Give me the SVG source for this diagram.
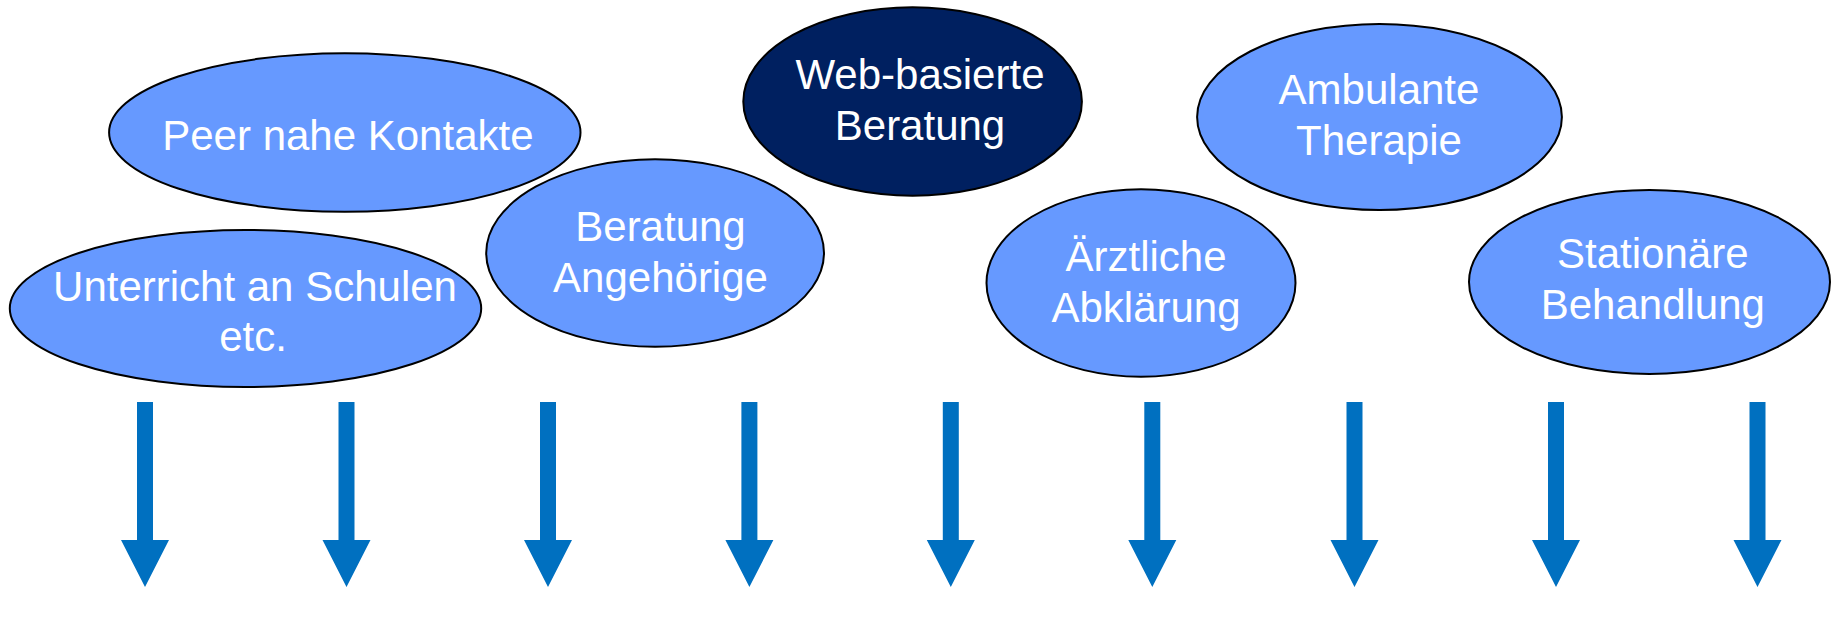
<svg xmlns="http://www.w3.org/2000/svg" xmlns:xlink="http://www.w3.org/1999/xlink" width="1831" height="628" viewBox="0 0 1831 628">
  <style>
    .node { fill: #6699FF; stroke: #000000; stroke-width: 2; }
    .node.dark { fill: #002060; }
    .label { font-family: "Liberation Sans", Arial, sans-serif; font-size: 42px; fill: #FFFFFF; text-anchor: middle; }
    .arrow { fill: #0070C0; }
  </style>
  <defs>
    <!-- block arrow pointing down, origin at shaft centre -->
    <path id="downArrow" class="arrow" d="M -8 402 L 8 402 L 8 540 L 24 540 L 0 587 L -24 540 L -8 540 Z"/>
  </defs>

  <rect width="1831" height="628" fill="#FFFFFF"/>

  <g id="peer">
    <ellipse class="node" cx="344.8" cy="132.5" rx="235.7" ry="79.2"/>
    <text class="label" x="347.9" y="150">Peer nahe Kontakte</text>
  </g>

  <g id="unterricht">
    <ellipse class="node" cx="245.5" cy="308.5" rx="235.7" ry="78.5"/>
    <text class="label" x="255" y="300.5">Unterricht an Schulen</text>
    <text class="label" x="253" y="351">etc.</text>
  </g>

  <g id="beratung-angehoerige">
    <ellipse class="node" cx="655.1" cy="253" rx="168.9" ry="93.7"/>
    <text class="label" x="660.5" y="240.7">Beratung</text>
    <text class="label" x="660.5" y="291.7">Angehörige</text>
  </g>

  <g id="web-beratung">
    <ellipse class="node dark" cx="912.6" cy="101.5" rx="169.3" ry="94.2"/>
    <text class="label" x="920" y="89.3">Web-basierte</text>
    <text class="label" x="920" y="140">Beratung</text>
  </g>

  <g id="aerztliche-abklaerung">
    <ellipse class="node" cx="1141" cy="283" rx="154.5" ry="93.7"/>
    <text class="label" x="1146" y="270.7">Ärztliche</text>
    <text class="label" x="1146" y="321.7">Abklärung</text>
  </g>

  <g id="ambulante-therapie">
    <ellipse class="node" cx="1379.5" cy="117" rx="182.4" ry="93"/>
    <text class="label" x="1379" y="104">Ambulante</text>
    <text class="label" x="1379" y="155">Therapie</text>
  </g>

  <g id="stationaere-behandlung">
    <ellipse class="node" cx="1649.5" cy="282" rx="180.5" ry="92"/>
    <text class="label" x="1652.8" y="268.3">Stationäre</text>
    <text class="label" x="1652.8" y="319.3">Behandlung</text>
  </g>

  <g id="connectors">
    <use xlink:href="#downArrow" transform="translate(145,0)"/>
    <use xlink:href="#downArrow" transform="translate(346.5,0)"/>
    <use xlink:href="#downArrow" transform="translate(548,0)"/>
    <use xlink:href="#downArrow" transform="translate(749.4,0)"/>
    <use xlink:href="#downArrow" transform="translate(950.8,0)"/>
    <use xlink:href="#downArrow" transform="translate(1152.3,0)"/>
    <use xlink:href="#downArrow" transform="translate(1354.5,0)"/>
    <use xlink:href="#downArrow" transform="translate(1556,0)"/>
    <use xlink:href="#downArrow" transform="translate(1757.5,0)"/>
  </g>
</svg>
